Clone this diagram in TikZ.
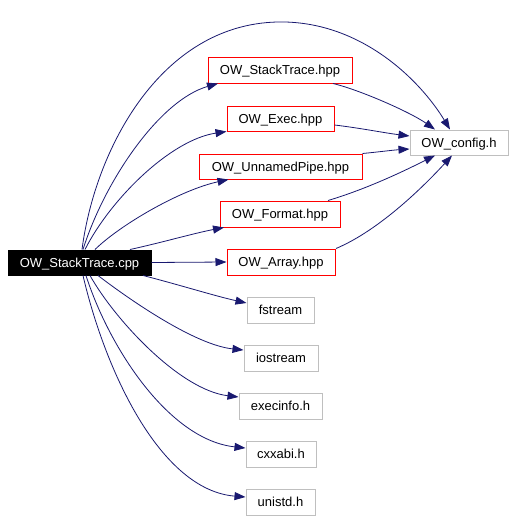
\documentclass[tikz,border=0pt]{standalone}
\usepackage{fontspec}
\setmainfont{Liberation Sans}
\usetikzlibrary{arrows.meta,calc}
\definecolor{edgeblue}{HTML}{191970}
\definecolor{boxgray}{HTML}{BFBFBF}
\tikzset{
  file/.style={draw, line width=1pt, inner sep=0pt, font=\fontsize{13}{15}\selectfont, text height=9.3pt, text depth=0pt, anchor=center},
  redfile/.style={file, draw=red},
  grayfile/.style={file, draw=boxgray},
  mainfile/.style={file, fill=black, draw=black, text=white},
  dep/.style={draw=edgeblue, line width=0.8pt, -{Triangle[length=11pt,width=8pt]}, fill=none},
}
\begin{document}
\begin{tikzpicture}[x=1pt,y=-1pt]
\useasboundingbox[fill=white] (0,0) rectangle (515,520);
\node[mainfile, minimum width=143pt, minimum height=25pt] (cpp) at (79.5,262.5) {OW\_StackTrace.cpp};
\node[redfile, minimum width=144pt, minimum height=26pt] (shpp) at (280,70) {OW\_StackTrace.hpp};
\node[redfile, minimum width=107pt, minimum height=25pt] (exec) at (280.5,118.5) {OW\_Exec.hpp};
\node[redfile, minimum width=163pt, minimum height=25pt] (pipe) at (280.5,166.5) {OW\_UnnamedPipe.hpp};
\node[redfile, minimum width=120pt, minimum height=26pt] (format) at (280,214) {OW\_Format.hpp};
\node[redfile, minimum width=108pt, minimum height=26pt] (array) at (281,262) {OW\_Array.hpp};
\node[grayfile, minimum width=98pt, minimum height=25pt] (config) at (459,142.5) {OW\_config.h};
\node[grayfile, minimum width=67pt, minimum height=26pt] (fstream) at (280.5,310) {fstream};
\node[grayfile, minimum width=74pt, minimum height=26pt] (iostream) at (281,358) {iostream};
\node[grayfile, minimum width=83pt, minimum height=26pt] (execinfo) at (280.5,406) {execinfo.h};
\node[grayfile, minimum width=70pt, minimum height=26pt] (cxxabi) at (281,454) {cxxabi.h};
\node[grayfile, minimum width=69pt, minimum height=26pt] (unistd) at (280.5,502) {unistd.h};

% from cpp
\draw[dep] ($(cpp.north)+(2.5,0)$) .. controls (95,150) and (160,25) .. (277,22)
  .. controls (360,20) and (420,80) .. ($(config.north)+(-9,0)$);
\draw[dep] ($(cpp.north)+(3.5,0)$) .. controls (105,180) and (160,100) .. ($(shpp.south)+(-62,0)$);
\draw[dep] ($(cpp.north)+(5.5,0)$) .. controls (110,200) and (170,140) .. ($(exec.south west)$);
\draw[dep] ($(cpp.north)+(15.5,0)$) .. controls (120,225) and (180,190) .. ($(pipe.south)+(-52,0)$);
\draw[dep] ($(cpp.north)+(50.5,0)$) .. controls (160,243) and (195,233) .. ($(format.south)+(-56,0)$);
\draw[dep] (cpp.east) -- (array.west);
\draw[dep] ($(cpp.south)+(63.5,0)$) .. controls (180,285) and (215,296) .. ($(fstream.west)+(0,-7)$);
\draw[dep] ($(cpp.south)+(18.5,0)$) .. controls (130,300) and (195,345) .. ($(iostream.west)+(0,-8)$);
\draw[dep] ($(cpp.south)+(10.5,0)$) .. controls (115,320) and (180,390) .. ($(execinfo.west)+(0,-9)$);
\draw[dep] ($(cpp.south)+(6.5,0)$) .. controls (110,350) and (170,440) .. ($(cxxabi.west)+(0,-6)$);
\draw[dep] ($(cpp.south)+(3.5,0)$) .. controls (105,370) and (160,490) .. ($(unistd.west)+(0,-5)$);

% to config
\draw[dep] ($(shpp.south)+(53,0)$) .. controls (360,90) and (410,112) .. ($(config.north)+(-24,0)$);
\draw[dep] ($(exec.east)+(0,6.5)$) .. controls (360,128) and (385,133) .. ($(config.west)+(0,-6.5)$);
\draw[dep] (pipe.north east) .. controls (378,152) and (394,150) .. ($(config.west)+(0,6.5)$);
\draw[dep] ($(format.north)+(48,0)$) .. controls (370,188) and (410,168) .. ($(config.south)+(-24,0)$);
\draw[dep] ($(array.north)+(55,0)$) .. controls (380,230) and (425,185) .. ($(config.south)+(-7,0)$);
\end{tikzpicture}
\end{document}
